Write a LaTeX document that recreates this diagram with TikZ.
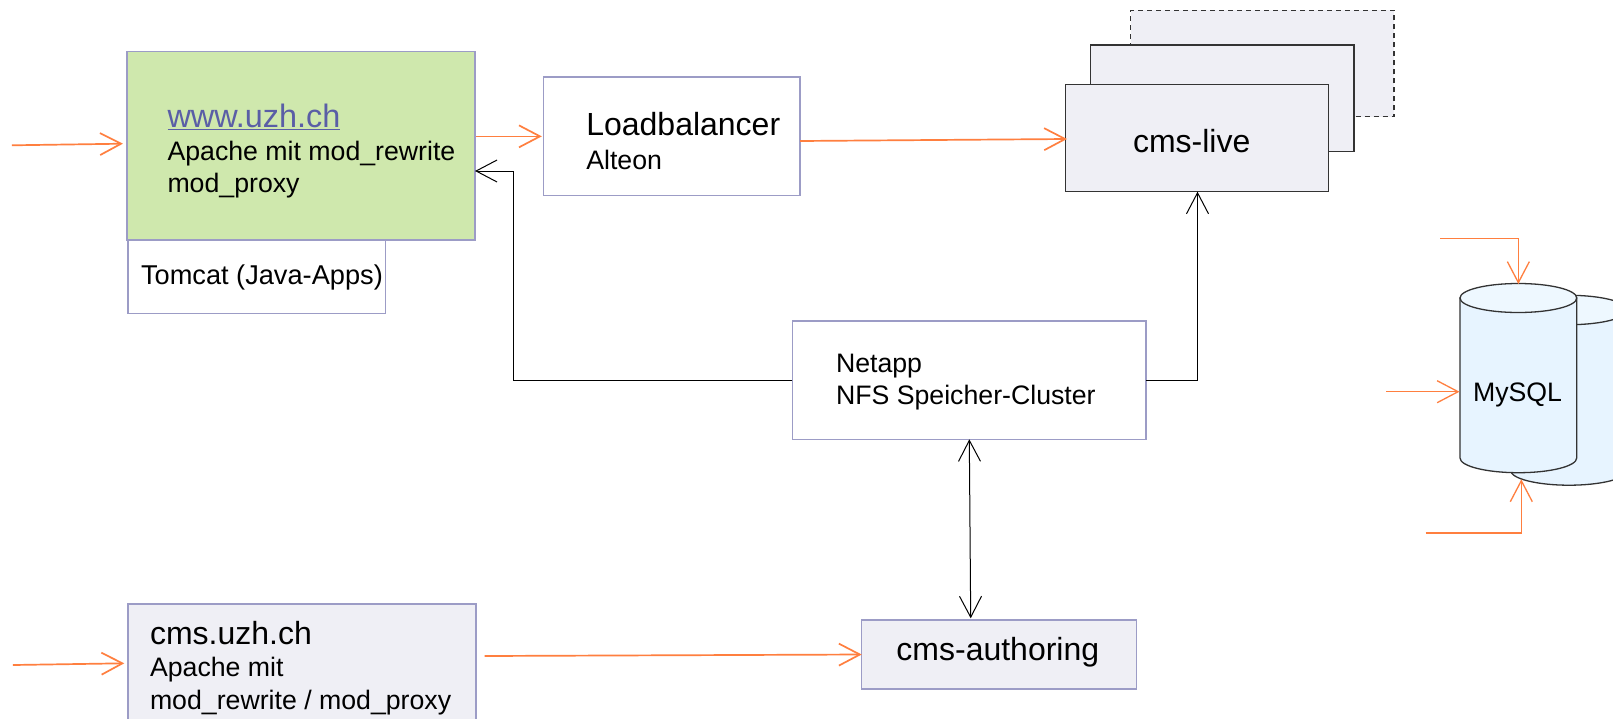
\documentclass[tikz,border=0pt]{standalone}
\usepackage{fontspec}
\setmainfont{Liberation Sans}
\usetikzlibrary{arrows.meta}
\definecolor{boxline}{HTML}{9C9CC6}
\definecolor{wwwgreen}{HTML}{CFE8AD}
\definecolor{cmsgray}{HTML}{EFEFF5}
\definecolor{cylbody}{HTML}{E7F4FF}
\definecolor{cyltop}{HTML}{EEF8FF}
\definecolor{flow}{HTML}{FF7F3F}
\definecolor{linkblue}{HTML}{5A5EA6}
\definecolor{darkline}{HTML}{333333}
\newcommand{\bigfs}{\fontsize{32}{32}\selectfont}
\newcommand{\smallfs}{\fontsize{26.7}{32}\selectfont}
\newcommand{\stack}[3]{\vtop{\baselineskip=#1pt\lineskiplimit=-100pt\hbox{#2}\hbox{#3}}}
\tikzset{
  x=1pt,y=-1pt,
  box/.style={draw=boxline,line width=1.4pt,inner sep=0pt,outer sep=0pt,fill=white},
  livebox/.style={draw=darkline,line width=1.3pt,inner sep=0pt,outer sep=0pt,fill=cmsgray},
  txt/.style={anchor=base west,inner sep=0pt,outer sep=0pt,font=\smallfs},
  flowline/.style={draw=flow,line width=1.7pt,-{Straight Barb[length=21pt,width=22pt]}},
  blackline/.style={draw=black,line width=1pt,-{Straight Barb[length=21pt,width=22pt]}},
  cyl/.style={draw=darkline,line width=1.3pt}
}
\begin{document}
\begin{tikzpicture}
\useasboundingbox (0,0) rectangle (1613,718);
\fill[white] (0,0) rectangle (1613,718);
\clip (0,0) rectangle (1613,718);

% cms-live stack
\node[livebox,dashed,dash pattern=on 5pt off 4pt,minimum width=263.3pt,minimum height=106.4pt] (live3) at (1262.35,63.5) {};
\node[livebox,minimum width=263.3pt,minimum height=106.3pt] (live2) at (1222.35,98.15) {};
\node[livebox,minimum width=262.6pt,minimum height=107pt] (live) at (1197,138.2) {};
\node[anchor=base,inner sep=0pt,font=\bigfs] (livetxt) at (1191.7,152.7) {cms-live};

% www + tomcat
\node[box,minimum width=257.8pt,minimum height=73.7pt] (tomcat) at (256.8,276.85) {};
\node[txt,font=\fontsize{27.2}{32}\selectfont] (tomcattxt) at (141,284) {Tomcat (Java-Apps)};
\node[box,fill=wwwgreen,minimum width=348.2pt,minimum height=188.3pt] (www) at (300.9,145.85) {};
\node[txt] (wwwtxt) at (167.5,127.7) {\stack{32.3}{\fontsize{32.4}{32}\selectfont\color{linkblue}\underline{www.uzh.ch}}{Apache mit mod\_rewrite}};
\node[txt] (wwwtxt2) at (167.5,192.3) {mod\_proxy};

% load balancer
\node[box,minimum width=256.3pt,minimum height=118.7pt] (lb) at (671.85,136.35) {};
\node[txt] (lbtxt) at (586.3,135) {\stack{34}{\bigfs Loadbalancer}{Alteon}};

% netapp
\node[box,minimum width=353.7pt,minimum height=118.3pt] (netapp) at (969.15,380.15) {};
\node[txt] (netapptxt) at (836,372) {\stack{32}{Netapp}{NFS Speicher-Cluster}};

% cms.uzh.ch
\node[box,fill=cmsgray,minimum width=348pt,minimum height=136pt] (cms) at (301.9,672) {};
\node[txt] (cmstxt) at (150,644.8) {\stack{32}{\bigfs cms.uzh.ch}{Apache mit}};
\node[txt] (cmstxt2) at (150,709) {mod\_rewrite / mod\_proxy};

% cms-authoring
\node[box,fill=cmsgray,minimum width=274.6pt,minimum height=69pt] (auth) at (999,654.5) {};
\node[anchor=base,inner sep=0pt,font=\bigfs] (authtxt) at (997.8,660.8) {cms-authoring};

% MySQL cylinders
\path[fill=cylbody,cyl] (1510.7,310) -- (1510.7,470.5) arc[start angle=180,end angle=360,x radius=58.3pt,y radius=14.7pt] -- (1627.3,310) -- cycle;
\path[fill=cyltop,cyl] (1569,310) ellipse[x radius=58.3pt,y radius=14.7pt];
\path[fill=cylbody,cyl] (1460,298) -- (1460,458) arc[start angle=180,end angle=360,x radius=58.35pt,y radius=14.7pt] -- (1576.7,298) -- cycle;
\path[fill=cyltop,cyl] (1518.35,298) ellipse[x radius=58.35pt,y radius=14.5pt];
\node[inner sep=0pt,outer sep=0pt,minimum width=116.7pt,minimum height=188.7pt] (mysql) at (1518.35,378.35) {};
\node[anchor=base,inner sep=0pt,font=\smallfs] (mysqltxt) at (1517.5,401) {MySQL};

% named free ends
\coordinate (inwww) at (11.8,145.3);
\coordinate (inwwwtip) at (122.9,143.7);
\coordinate (incms) at (12.9,665);
\coordinate (incmstip) at (124.3,663.3);
\coordinate (cmsout) at (484.6,656);
\coordinate (authin) at (861.7,654.5);
\coordinate (wwwout) at (476,136.35);
\coordinate (lbin) at (541.8,136.35);
\coordinate (lbout) at (800,141);
\coordinate (livein) at (1067,139);
\coordinate (wwwback) at (475,171);
\coordinate (livebottom) at (1197.5,191.7);
\coordinate (nettop) at (969.3,439.3);
\coordinate (authtop) at (970.7,618.3);
\coordinate (sqltopfree) at (1440,238.7);
\coordinate (sqlmidfree) at (1386,391.7);
\coordinate (sqlmidtip) at (1459.5,391.7);
\coordinate (sqlbotfree) at (1425.7,533);
\coordinate (sqlbottip) at (1521.3,479.3);

% connectors
\draw[flowline] (inwww) -- (inwwwtip);
\draw[flowline] (wwwout) -- (lbin);
\draw[flowline] (lbout) -- (livein);
\draw[flowline] (incms) -- (incmstip);
\draw[flowline] (cmsout) -- (authin);
\draw[flowline,line width=1.3pt] (sqltopfree) -| (mysql.north);
\draw[flowline,line width=1.3pt] (sqlmidfree) -- (sqlmidtip);
\draw[flowline,line width=1.3pt] (sqlbotfree) -| (sqlbottip);
\draw[blackline] (netapp.west) -| (513.2,171) -- (wwwback);
\draw[blackline] (netapp.east) -| (livebottom);
\draw[blackline,{Straight Barb[length=21pt,width=22pt]}-{Straight Barb[length=21pt,width=22pt]}] (nettop) -- (authtop);
\end{tikzpicture}
\end{document}
